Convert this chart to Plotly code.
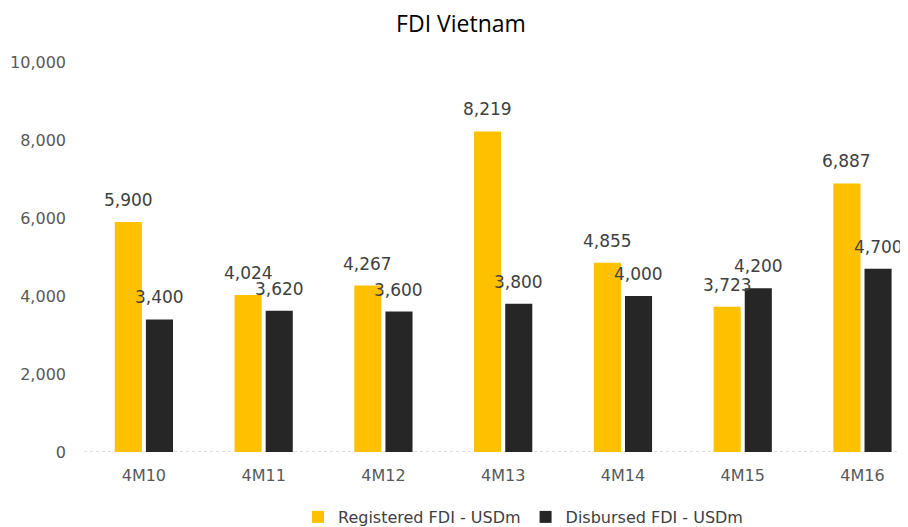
import plotly.graph_objects as go

categories = ["4M10", "4M11", "4M12", "4M13", "4M14", "4M15", "4M16"]
registered = [5900, 4024, 4267, 8219, 4855, 3723, 6887]
disbursed = [3400, 3620, 3600, 3800, 4000, 4200, 4700]
series_names = ["Registered FDI - USDm", "Disbursed FDI - USDm"]
y_ticks = [0, 2000, 4000, 6000, 8000, 10000]

BARGAP = 0.48
GROUPGAP = 0.13
slot = (1 - BARGAP) / 2  # width of one series slot in category units

# the page body has an 8px margin, so the figure is 8px smaller each way
W, H = 900, 519

lab_font = dict(family="DejaVu Sans", size=17, color="#404040")
tick_font = dict(family="DejaVu Sans", size=16, color="#595959")

fig = go.Figure()
fig.add_trace(go.Bar(
    x=categories, y=registered, name=series_names[0],
    marker=dict(color="#FFC000", line=dict(width=0)),
))
fig.add_trace(go.Bar(
    x=categories, y=disbursed, name=series_names[1],
    marker=dict(color="#262626", line=dict(width=0)),
))

# data labels above each bar, positioned in data coordinates
for s_idx, values in enumerate([registered, disbursed]):
    off = (s_idx - 0.5) * slot
    for i, v in enumerate(values):
        fig.add_annotation(x=i + off, y=v, xref="x", yref="y",
                           text=f"{v:,}", showarrow=False,
                           xanchor="center", yanchor="bottom", yshift=10,
                           font=lab_font)

fig.add_shape(type="line", xref="paper", yref="y", x0=0, x1=1, y0=0, y1=0,
              line=dict(color="#BFBFBF", width=1, dash="dot"), layer="below")

fig.update_layout(
    width=W, height=H,
    margin=dict(l=76, r=0, t=54, b=75, autoexpand=False),
    paper_bgcolor="white", plot_bgcolor="white",
    title=dict(text="FDI Vietnam", x=453/W, xref="container", xanchor="center",
               y=1 - 16/H, yref="container", yanchor="middle",
               font=dict(family="Open Sans", size=23, color="#000000")),
    barmode="group", bargap=BARGAP, bargroupgap=GROUPGAP,
    showlegend=True,
    legend=dict(orientation="h", x=515/W, xref="container", xanchor="center",
                y=1 - 509/H, yref="container", yanchor="middle",
                font=dict(family="DejaVu Sans", size=16, color="#404040"),
                itemwidth=30, traceorder="normal", tracegroupgap=0),
    font=dict(family="DejaVu Sans", color="#595959"),
)
fig.update_xaxes(type="category", range=[-0.5, 6.38], showgrid=False, showline=False,
                 zeroline=False, ticks="", ticklabelstandoff=12, automargin=False,
                 tickfont=tick_font)
fig.update_yaxes(range=[0, 10000], tickvals=y_ticks, tickformat=",", showgrid=False,
                 zeroline=False, showline=False, ticks="", ticklabelstandoff=17,
                 automargin=False, tickfont=tick_font)

fig.write_html("out.html")
